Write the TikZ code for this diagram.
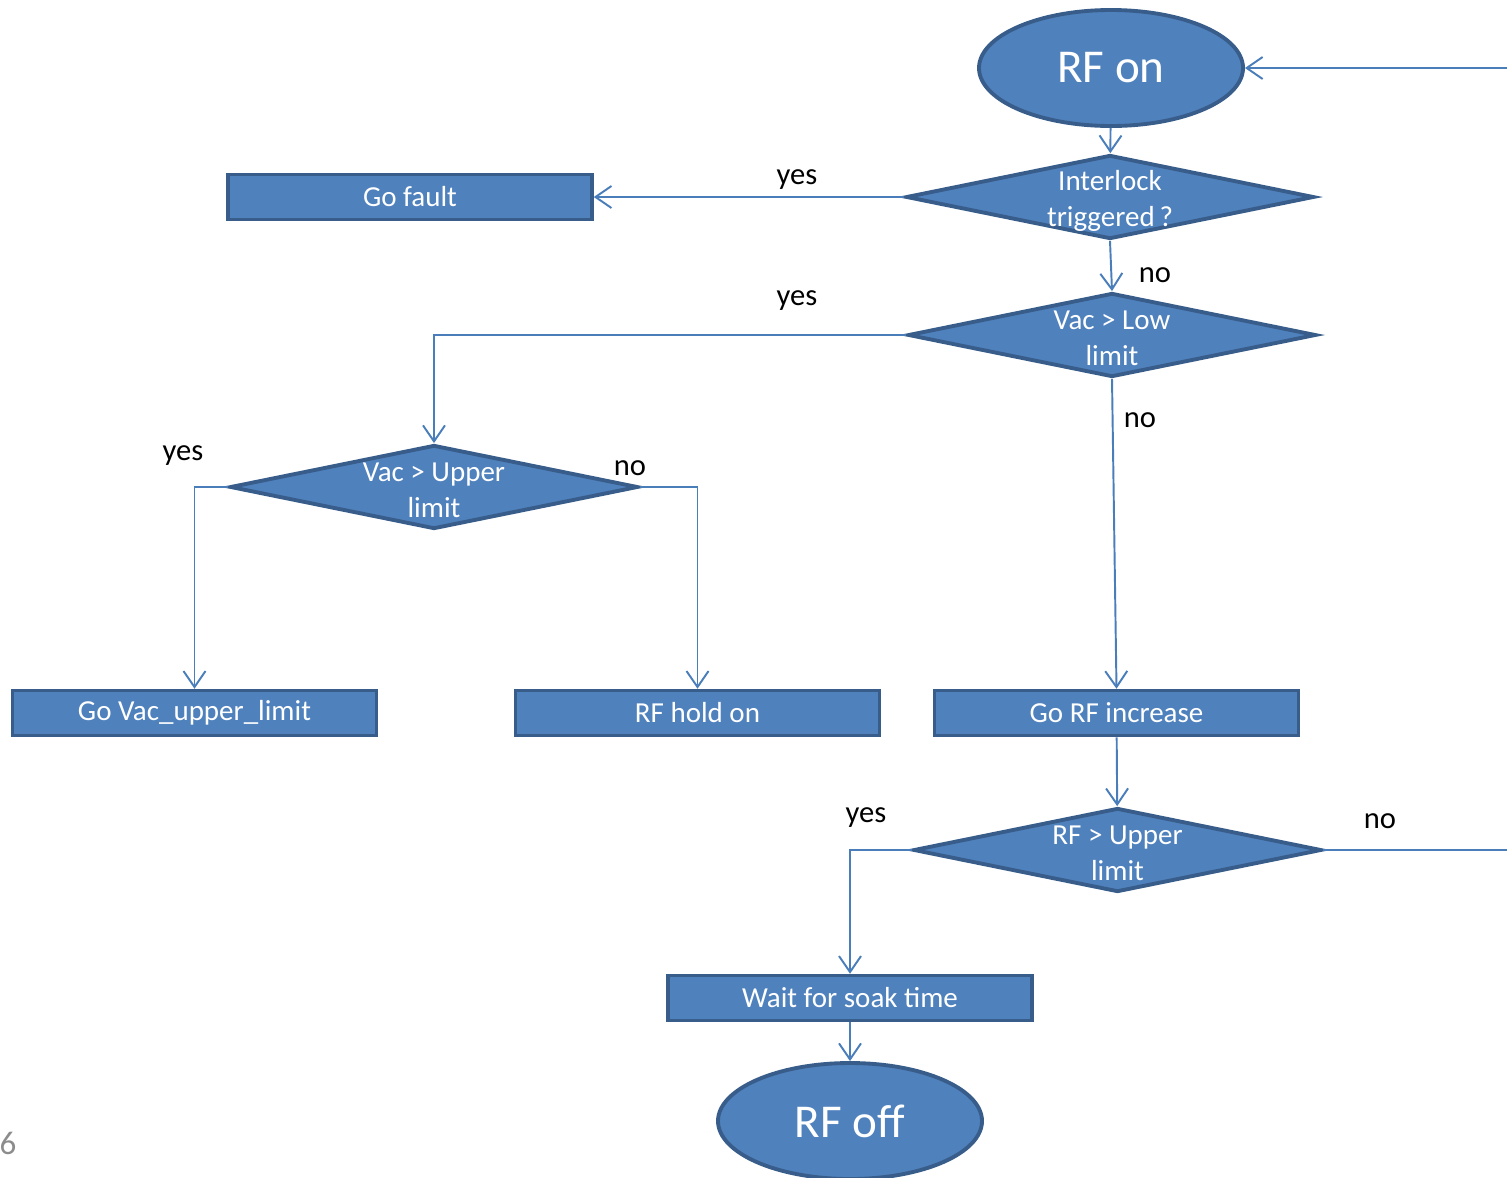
\documentclass[tikz,border=0pt]{standalone}
\usepackage{fontspec}
\setmainfont{Carlito}
\usetikzlibrary{shapes.geometric,arrows.meta}
\definecolor{boxfill}{HTML}{4F81BD}
\definecolor{boxline}{HTML}{385D8A}
\definecolor{connline}{HTML}{4A7EBB}
\begin{document}
\begin{tikzpicture}

\tikzset{
	terminal/.style={ellipse,fill=boxfill,draw=boxline,line width=1.1pt,
	minimum width=2.64cm,minimum height=1.16cm,inner sep=0,text=white,
	font=\fontsize{13.4}{16}\selectfont},
	process/.style={rectangle,fill=boxfill,draw=boxline,line width=1pt,
	minimum width=3.64cm,minimum height=0.45cm,inner sep=0,text=white,
	font=\fontsize{8.25}{10.2}\selectfont},
	decision/.style={diamond,fill=boxfill,draw=boxline,line width=1.1pt,
	minimum width=4.08cm,minimum height=0.84cm,inner sep=0},
	dtext/.style={text=white,align=center,inner sep=0,
	font=\fontsize{8.25}{10.2}\selectfont},
	}
	\tikzset{
	  conn/.style={draw=connline,line width=0.55pt,
	  -{Straight Barb[length=1.6mm,width=2.2mm]}},
	  lbl/.style={inner sep=0,font=\fontsize{8.7}{10.5}\selectfont},
	}
		  \useasboundingbox (0,0) rectangle (15.07,-11.77);

        %TOP
        \node[terminal] (rfon) at (11.11,-0.68) {RF on};
        \node[decision,label={[dtext,yshift=-1pt]center:{Interlock\\triggered\,?}}] (ilk) at (11.10,-1.97) {};
        \node[process] (gofault) at (4.10,-1.97) {Go fault};
        \node[decision,label={[dtext,yshift=-1pt]center:{Vac > Low\\limit}}] (vaclow) at (11.12,-3.35) {};
        %LEFT BRANCH
        \node[decision,label={[dtext,yshift=-1pt]center:{Vac > Upper\\limit}}] (vacup) at (4.34,-4.87) {};
        \node[process] (govac) at (1.945,-7.13) {Go Vac\_upper\_limit};
        \node[process] (hold) at (6.975,-7.13) {RF hold on};
        %RIGHT BRANCH
        \node[process] (rfinc) at (11.165,-7.13) {Go RF increase};
        \node[decision,label={[dtext,yshift=-1pt]center:{RF > Upper\\limit}}] (rfup) at (11.175,-8.50) {};
        \node[process] (soak) at (8.50,-9.98) {Wait for soak time};
        \node[terminal] (rfoff) at (8.50,-11.21) {RF off};
        \coordinate (back) at (15.40,-8.50);

        %CONNECTORS
        \draw[conn] (rfon) -- (ilk);
        \draw[conn] (ilk.west) -- (gofault.east);
        \draw[conn] (ilk.south) -- (vaclow.north);
        \draw[conn] (vaclow.west) -| (vacup.north);
        \draw[conn] (vaclow.south) -- (rfinc.north);
        \draw[conn] (vacup.west) -| (govac.north);
        \draw[conn] (vacup.east) -| (hold.north);
        \draw[conn] (rfinc) -- (rfup);
        \draw[conn] (rfup.west) -| (soak.north);
        \draw[conn] (rfup.east) -- (back) |- (rfon.east);
        \draw[conn] (soak) -- (rfoff);

        %YES NO
        \node[lbl] (yes1) at (7.97,-1.80) {yes};
        \node[lbl] (no1) at (11.55,-2.75) {no};
        \node[lbl] (yes2) at (7.97,-3.01) {yes};
        \node[lbl] (no2) at (11.40,-4.20) {no};
        \node[lbl] (yes3) at (1.83,-4.56) {yes};
        \node[lbl] (no3) at (6.30,-4.68) {no};
        \node[lbl] (yes4) at (8.66,-8.18) {yes};
        \node[lbl] (no4) at (13.80,-8.21) {no};

        %PAGE
        \node[anchor=west,inner sep=0,text=black!45,font=\fontsize{9.4}{11}\selectfont] (page) at (-0.01,-11.43) {6};
    \end{tikzpicture}
\end{document}
